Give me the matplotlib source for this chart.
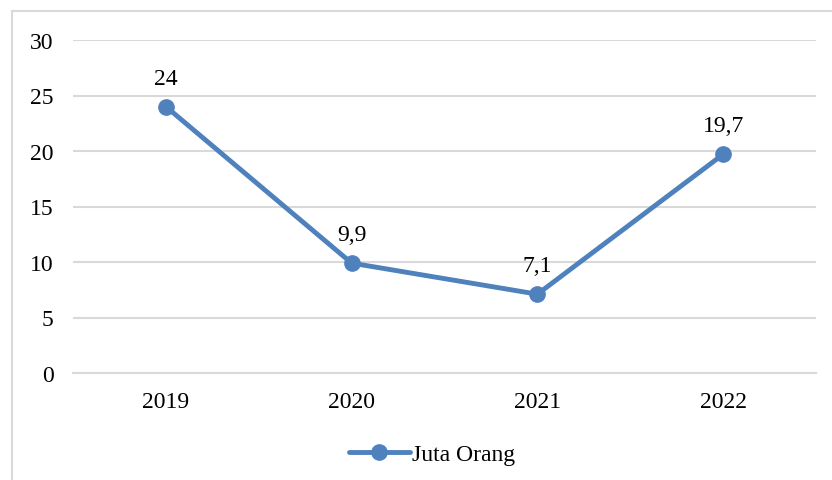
import matplotlib
matplotlib.use("Agg")
import matplotlib.pyplot as plt
from matplotlib.patches import Rectangle

years = ["2019", "2020", "2021", "2022"]
values = [24, 9.9, 7.1, 19.7]
labels = ["24", "9,9", "7,1", "19,7"]
yticks = [0, 5, 10, 15, 20, 25, 30]

plt.rcParams["font.family"] = ["Liberation Serif", "DejaVu Serif"]

fig = plt.figure(figsize=(8.32, 4.81), dpi=100)
fig.patches.append(Rectangle((12 / 832, -0.1), 1.2, 1 - 12 / 481 + 0.1,
                             transform=fig.transFigure, fill=False,
                             edgecolor="#d9d9d9", linewidth=1.5))
ax = fig.add_axes([73 / 832, 1 - 374 / 481, (816 - 73) / 832, (374 - 41) / 481])

x = range(len(years))
ax.plot(x, values, color="#4f81bd", linewidth=3.5, marker="o", markersize=11,
        label="Juta Orang", solid_capstyle="round")
for xi, v, t in zip(x, values, labels):
    ax.annotate(t, (xi, v), xytext=(0, 13), textcoords="offset points",
                ha="center", va="bottom", fontsize=17)

ax.set_xlim(-0.5, len(years) - 0.5)
ax.set_ylim(0, 30)
ax.set_yticks(yticks)
ax.set_xticks(list(x))
ax.set_xticklabels(years)
ax.tick_params(axis="both", length=0, labelsize=17)
ax.tick_params(axis="y", pad=14)
ax.tick_params(axis="x", pad=13)
ax.grid(axis="y", color="#d9d9d9", linewidth=1.5)
ax.set_axisbelow(True)
for s in ["top", "right", "left"]:
    ax.spines[s].set_visible(False)
ax.spines["bottom"].set_color("#d9d9d9")
ax.spines["bottom"].set_linewidth(1.5)

fig.legend(loc="center", bbox_to_anchor=(432 / 832, 1 - 455 / 481), frameon=False,
           fontsize=17, handlelength=2.6, handletextpad=0.1)

fig.savefig("out.png", dpi=100)
